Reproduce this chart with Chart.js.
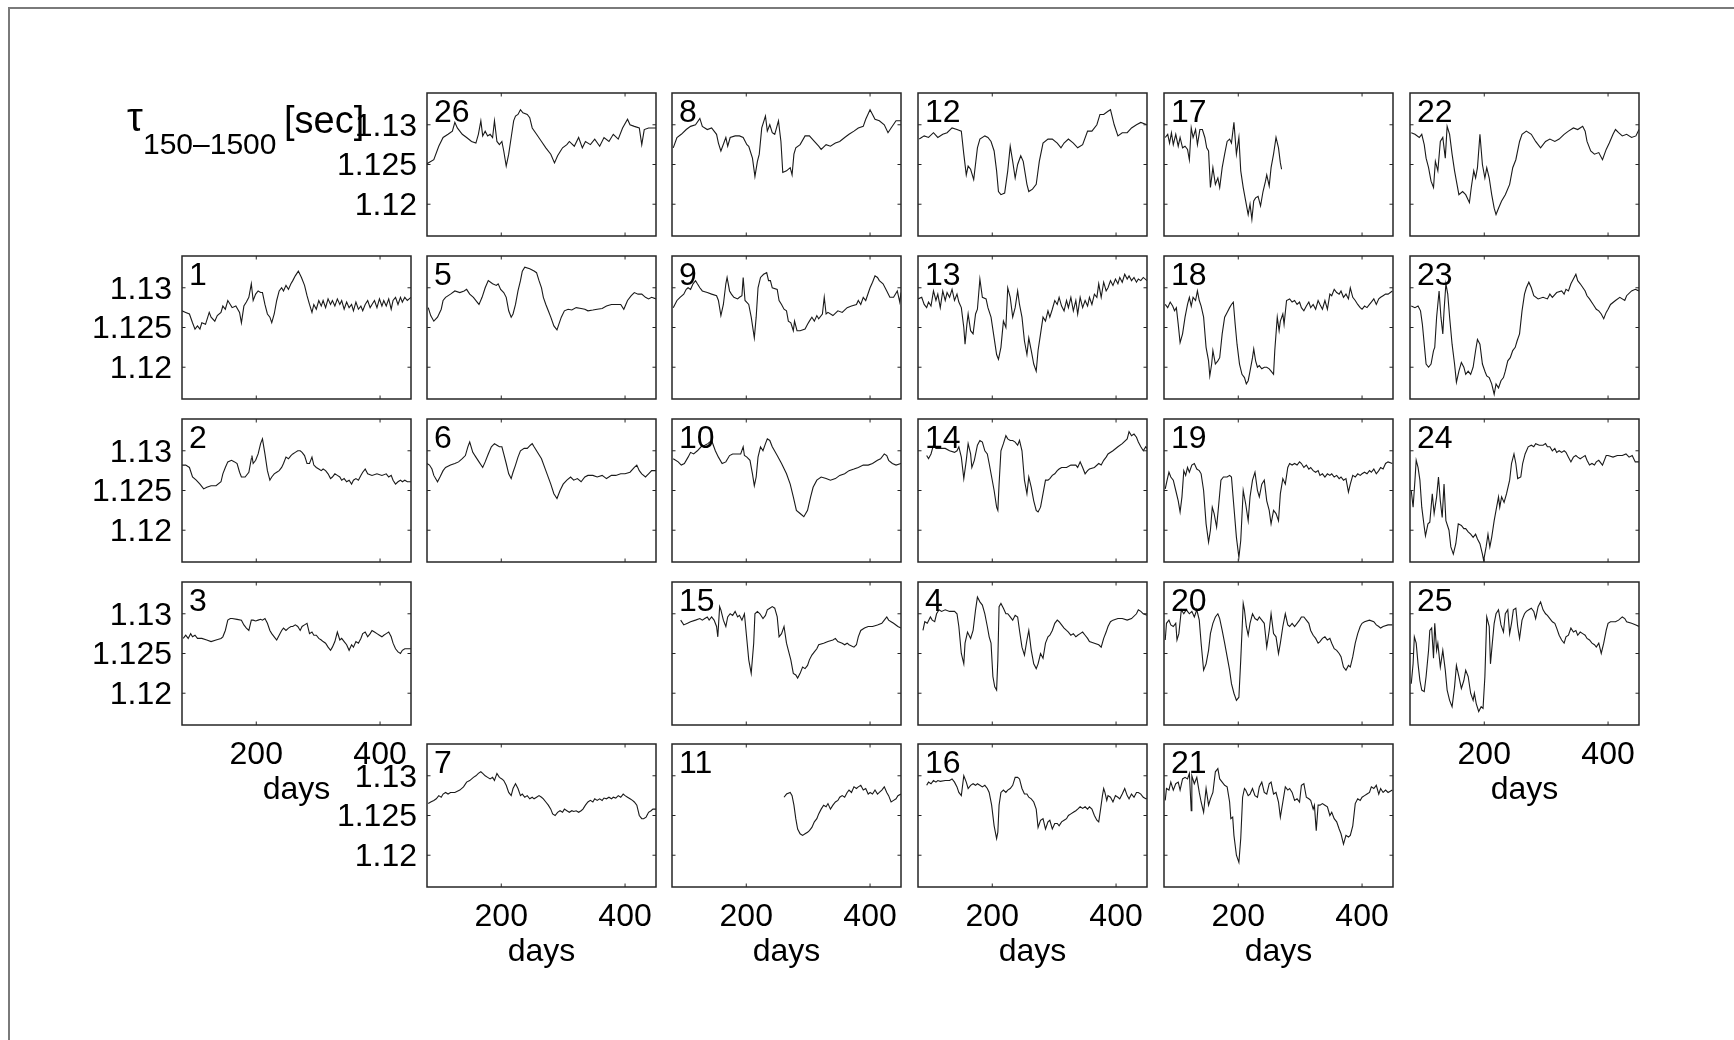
<!DOCTYPE html>
<html>
<head>
<meta charset="utf-8">
<script src="https://cdn.jsdelivr.net/npm/chart.js@4.4.1/dist/chart.umd.min.js"></script>
<style>
  html, body { margin: 0; padding: 0; background: #fff; }
  #page { position: relative; width: 1734px; height: 1040px; overflow: hidden; background: #fff; }
  #frame { position: absolute; left: 8px; top: 7px; width: 1760px; height: 1060px;
           border-left: 2px solid #7a7a7a; border-top: 2px solid #7a7a7a; }
  canvas { position: absolute; }
</style>
</head>
<body>
<div id="page"><div id="frame"></div></div>
<script>
// ---- axis ticks ----
const xTicks = [200, 400];
const xTickLabels = ['200', '400'];
const yTicks = [1.12, 1.125, 1.13];
const yTickLabels = ['1.12', '1.125', '1.13'];
const xRange = [80, 450];
const yRange = [1.116, 1.134];

// ---- tau(150-1500) series per station: days and values ----
const days26 = [80,91,99,106,114,121,125,129,137,144,152,159,163,167,170,174,178,182,186,189,193,197,201,204,208,212,216,220,223,227,231,235,242,246,250,257,265,272,280,286,291,299,306,310,318,325,331,336,344,351,359,366,374,381,389,396,404,408,415,423,427,431,438,450];
const tau26 = [1.1251,1.1256,1.1273,1.1284,1.1288,1.1292,1.1303,1.1296,1.1288,1.1284,1.1279,1.1277,1.1288,1.1305,1.1286,1.1292,1.1286,1.1288,1.1284,1.1305,1.1279,1.1275,1.1279,1.1267,1.1248,1.1263,1.1284,1.1305,1.1311,1.1313,1.1319,1.1315,1.1313,1.1309,1.1296,1.1288,1.1279,1.1271,1.1263,1.1252,1.1261,1.1271,1.1275,1.1279,1.1273,1.1284,1.1271,1.1279,1.1275,1.1282,1.1273,1.1284,1.1279,1.1288,1.1282,1.1296,1.1307,1.1300,1.1298,1.1296,1.1275,1.1294,1.1296,1.1296];

const days8 = [82,88,95,103,110,118,125,129,137,144,152,155,159,167,170,174,182,189,195,201,204,210,214,218,221,225,231,234,238,242,246,252,256,259,265,271,274,277,280,287,295,302,310,317,321,329,336,344,351,359,366,374,381,389,393,400,404,408,415,423,429,434,442,450];
const tau8 = [1.1271,1.1284,1.1288,1.1294,1.1298,1.1300,1.1308,1.1298,1.1294,1.1296,1.1288,1.1277,1.1267,1.1284,1.1273,1.1284,1.1286,1.1286,1.1284,1.1275,1.1273,1.1258,1.1235,1.1254,1.1263,1.1296,1.1311,1.1292,1.1300,1.1290,1.1288,1.1305,1.1279,1.1240,1.1242,1.1246,1.1237,1.1263,1.1271,1.1275,1.1286,1.1286,1.1279,1.1273,1.1269,1.1275,1.1273,1.1277,1.1279,1.1284,1.1288,1.1292,1.1296,1.1298,1.1307,1.1319,1.1313,1.1307,1.1305,1.1300,1.1290,1.1296,1.1305,1.1305];

const days12 = [82,90,97,105,112,120,127,135,143,150,154,158,161,165,170,176,180,188,193,198,203,207,210,214,220,225,229,233,237,241,246,250,256,259,265,271,276,282,290,297,305,311,316,323,331,338,346,354,361,369,374,380,387,391,397,403,410,418,425,433,440,450];
const tau12 = [1.1282,1.1286,1.1284,1.1290,1.1284,1.1288,1.1290,1.1296,1.1294,1.1292,1.1263,1.1237,1.1248,1.1244,1.1231,1.1271,1.1282,1.1286,1.1284,1.1279,1.1267,1.1242,1.1216,1.1212,1.1214,1.1242,1.1273,1.1254,1.1233,1.1250,1.1261,1.1254,1.1225,1.1216,1.1219,1.1225,1.1254,1.1277,1.1282,1.1282,1.1277,1.1271,1.1277,1.1282,1.1277,1.1271,1.1275,1.1292,1.1292,1.1300,1.1313,1.1313,1.1317,1.1319,1.1300,1.1286,1.1290,1.1290,1.1296,1.1300,1.1303,1.1300];

const days17 = [82,86,89,92,95,99,103,106,110,114,118,121,124,127,131,134,138,142,146,149,152,155,159,163,167,170,174,178,182,186,189,193,197,201,204,208,212,216,219,222,225,228,232,236,240,244,246,250,253,257,261,265,268,270];
const tau17 = [1.1284,1.1288,1.1277,1.1290,1.1275,1.1288,1.1273,1.1284,1.1271,1.1273,1.1269,1.1256,1.1296,1.1284,1.1294,1.1275,1.1294,1.1294,1.1284,1.1271,1.1267,1.1221,1.1246,1.1225,1.1233,1.1221,1.1246,1.1263,1.1279,1.1282,1.1277,1.1303,1.1263,1.1284,1.1242,1.1221,1.1204,1.1187,1.1200,1.1181,1.1204,1.1208,1.1210,1.1198,1.1216,1.1229,1.1237,1.1223,1.1246,1.1263,1.1284,1.1271,1.1252,1.1244];

const days22 = [82,88,95,99,103,106,110,114,118,121,125,129,133,137,140,144,148,152,155,159,165,170,176,179,183,186,189,193,197,201,204,208,212,216,219,223,228,234,241,246,251,257,261,268,276,283,291,299,306,314,321,329,336,344,351,359,363,366,372,378,385,391,397,402,408,412,417,423,430,438,445,450];
const tau22 = [1.1290,1.1288,1.1284,1.1288,1.1275,1.1258,1.1246,1.1229,1.1221,1.1254,1.1242,1.1279,1.1284,1.1258,1.1298,1.1288,1.1263,1.1242,1.1229,1.1212,1.1216,1.1212,1.1202,1.1221,1.1242,1.1233,1.1246,1.1288,1.1250,1.1233,1.1246,1.1233,1.1212,1.1195,1.1187,1.1195,1.1204,1.1212,1.1225,1.1246,1.1256,1.1279,1.1288,1.1292,1.1288,1.1279,1.1271,1.1279,1.1282,1.1279,1.1282,1.1288,1.1292,1.1296,1.1294,1.1298,1.1292,1.1279,1.1267,1.1263,1.1265,1.1256,1.1269,1.1277,1.1288,1.1294,1.1290,1.1286,1.1288,1.1284,1.1286,1.1294];

const days1 = [80,86,92,97,101,105,109,112,118,124,127,133,137,143,146,150,154,158,161,167,173,176,180,184,188,192,195,199,203,207,210,214,218,222,225,229,233,237,241,244,248,252,256,259,263,268,273,278,282,286,290,293,297,301,305,308,312,316,320,323,327,331,335,338,342,346,350,354,357,361,365,369,372,376,380,384,387,391,395,399,403,406,410,414,418,421,425,429,433,436,440,444,450];
const tau1 = [1.1271,1.1269,1.1267,1.1256,1.1248,1.1252,1.1248,1.1256,1.1254,1.1269,1.1263,1.1258,1.1265,1.1269,1.1277,1.1273,1.1284,1.1279,1.1275,1.1277,1.1269,1.1256,1.1277,1.1282,1.1288,1.1305,1.1284,1.1292,1.1296,1.1294,1.1294,1.1279,1.1267,1.1263,1.1256,1.1267,1.1284,1.1296,1.1300,1.1296,1.1303,1.1298,1.1305,1.1309,1.1315,1.1321,1.1313,1.1303,1.1290,1.1279,1.1269,1.1279,1.1273,1.1284,1.1277,1.1284,1.1275,1.1286,1.1279,1.1284,1.1277,1.1286,1.1279,1.1284,1.1273,1.1282,1.1275,1.1279,1.1271,1.1282,1.1273,1.1277,1.1271,1.1279,1.1284,1.1275,1.1279,1.1284,1.1275,1.1286,1.1277,1.1284,1.1277,1.1286,1.1273,1.1284,1.1288,1.1279,1.1288,1.1282,1.1288,1.1284,1.1288];

const days5 = [82,86,91,97,103,106,110,118,125,133,140,144,149,155,161,164,169,174,179,186,192,195,199,204,208,212,216,219,223,227,231,234,238,246,253,257,261,265,268,272,276,280,285,290,293,297,302,308,314,321,329,335,340,348,355,363,370,378,385,393,398,404,410,415,421,427,433,438,443,450];
const tau5 = [1.1275,1.1265,1.1258,1.1263,1.1273,1.1284,1.1288,1.1292,1.1296,1.1294,1.1296,1.1298,1.1292,1.1288,1.1282,1.1279,1.1288,1.1300,1.1309,1.1305,1.1303,1.1305,1.1298,1.1294,1.1288,1.1271,1.1263,1.1267,1.1279,1.1296,1.1309,1.1321,1.1326,1.1324,1.1321,1.1319,1.1309,1.1300,1.1288,1.1279,1.1271,1.1263,1.1252,1.1247,1.1254,1.1263,1.1271,1.1273,1.1272,1.1275,1.1274,1.1273,1.1271,1.1272,1.1273,1.1274,1.1277,1.1279,1.1279,1.1279,1.1273,1.1284,1.1290,1.1294,1.1292,1.1292,1.1288,1.1286,1.1288,1.1286];

const days9 = [82,88,93,99,103,106,110,114,118,121,125,129,137,144,152,155,159,163,167,169,173,176,180,186,189,193,195,198,204,208,213,216,219,223,228,233,236,239,242,250,253,257,261,265,268,272,276,278,282,287,295,299,302,306,310,314,317,323,326,329,332,340,348,355,363,370,378,381,385,389,393,400,404,408,412,415,421,427,432,438,444,448,450];
const tau9 = [1.1275,1.1284,1.1288,1.1292,1.1298,1.1300,1.1298,1.1305,1.1309,1.1305,1.1300,1.1296,1.1294,1.1292,1.1290,1.1284,1.1265,1.1279,1.1305,1.1313,1.1296,1.1292,1.1288,1.1286,1.1288,1.1290,1.1313,1.1284,1.1279,1.1263,1.1237,1.1263,1.1300,1.1313,1.1317,1.1319,1.1309,1.1309,1.1300,1.1298,1.1284,1.1279,1.1273,1.1271,1.1258,1.1256,1.1246,1.1258,1.1246,1.1246,1.1248,1.1254,1.1258,1.1263,1.1258,1.1265,1.1261,1.1267,1.1288,1.1267,1.1269,1.1265,1.1271,1.1269,1.1275,1.1277,1.1279,1.1284,1.1279,1.1288,1.1284,1.1300,1.1307,1.1315,1.1313,1.1309,1.1305,1.1296,1.1288,1.1288,1.1296,1.1282,1.1294];

const days13 = [80,86,90,94,97,101,105,109,112,116,120,124,127,131,135,139,143,146,150,154,156,159,161,165,169,173,176,180,184,190,193,198,203,207,210,214,218,222,225,229,233,237,241,244,248,252,256,259,263,267,271,274,278,282,286,290,293,297,301,305,308,312,316,320,323,327,331,335,338,342,346,350,354,357,361,365,369,372,376,380,384,387,391,395,399,403,406,410,414,418,421,425,429,433,436,440,444,450];
const tau13 = [1.1286,1.1288,1.1279,1.1275,1.1282,1.1277,1.1296,1.1284,1.1292,1.1275,1.1296,1.1284,1.1294,1.1288,1.1298,1.1284,1.1292,1.1282,1.1275,1.1250,1.1229,1.1254,1.1267,1.1246,1.1242,1.1267,1.1273,1.1311,1.1288,1.1286,1.1275,1.1263,1.1237,1.1216,1.1210,1.1225,1.1258,1.1250,1.1300,1.1288,1.1263,1.1275,1.1296,1.1279,1.1263,1.1233,1.1216,1.1237,1.1221,1.1204,1.1195,1.1221,1.1242,1.1263,1.1258,1.1271,1.1263,1.1273,1.1284,1.1279,1.1288,1.1277,1.1271,1.1284,1.1275,1.1288,1.1271,1.1284,1.1267,1.1288,1.1275,1.1284,1.1277,1.1288,1.1279,1.1292,1.1288,1.1305,1.1288,1.1307,1.1296,1.1300,1.1309,1.1303,1.1311,1.1305,1.1313,1.1307,1.1317,1.1311,1.1315,1.1309,1.1313,1.1307,1.1311,1.1309,1.1313,1.1309];

const days18 = [82,86,90,94,97,100,103,106,110,114,118,121,124,127,131,134,137,140,144,148,152,154,157,159,163,167,170,174,178,182,186,189,192,195,198,202,206,210,213,216,219,223,225,228,231,234,238,242,246,250,253,257,259,263,266,268,272,274,278,283,287,291,295,299,302,306,310,314,317,321,325,329,332,336,340,344,348,351,355,359,363,366,370,374,378,381,385,389,393,397,400,404,408,412,415,419,423,427,430,434,438,442,449];
const tau18 = [1.1279,1.1275,1.1282,1.1277,1.1271,1.1275,1.1254,1.1231,1.1242,1.1263,1.1279,1.1288,1.1277,1.1288,1.1284,1.1296,1.1284,1.1277,1.1263,1.1225,1.1208,1.1189,1.1204,1.1221,1.1204,1.1208,1.1212,1.1242,1.1263,1.1269,1.1275,1.1279,1.1282,1.1254,1.1229,1.1204,1.1191,1.1187,1.1179,1.1183,1.1195,1.1212,1.1223,1.1208,1.1200,1.1202,1.1198,1.1200,1.1200,1.1198,1.1195,1.1191,1.1221,1.1263,1.1246,1.1258,1.1267,1.1254,1.1284,1.1286,1.1282,1.1284,1.1279,1.1282,1.1275,1.1271,1.1277,1.1282,1.1275,1.1279,1.1273,1.1284,1.1279,1.1273,1.1284,1.1273,1.1292,1.1290,1.1298,1.1294,1.1292,1.1296,1.1288,1.1292,1.1286,1.1300,1.1288,1.1284,1.1279,1.1275,1.1273,1.1277,1.1275,1.1279,1.1282,1.1286,1.1279,1.1286,1.1288,1.1290,1.1292,1.1292,1.1296];

const days23 = [82,88,93,97,100,103,106,110,114,118,120,123,127,130,133,135,138,141,144,148,152,155,159,163,167,170,174,178,182,186,189,193,197,201,204,208,212,216,219,223,227,231,234,238,242,246,250,253,257,261,265,268,272,276,280,287,295,302,306,310,317,325,329,332,336,340,344,348,351,355,363,366,370,376,381,385,389,393,397,400,404,412,419,427,430,438,444,450];
const tau23 = [1.1277,1.1275,1.1277,1.1271,1.1254,1.1229,1.1204,1.1200,1.1204,1.1221,1.1225,1.1263,1.1296,1.1263,1.1242,1.1271,1.1305,1.1292,1.1263,1.1229,1.1204,1.1181,1.1195,1.1206,1.1200,1.1191,1.1195,1.1191,1.1200,1.1221,1.1235,1.1229,1.1204,1.1195,1.1189,1.1187,1.1179,1.1166,1.1179,1.1174,1.1183,1.1187,1.1195,1.1208,1.1212,1.1221,1.1225,1.1233,1.1242,1.1271,1.1292,1.1300,1.1307,1.1300,1.1290,1.1286,1.1288,1.1286,1.1292,1.1288,1.1294,1.1296,1.1292,1.1298,1.1296,1.1305,1.1311,1.1317,1.1309,1.1305,1.1296,1.1290,1.1286,1.1279,1.1273,1.1271,1.1267,1.1261,1.1269,1.1273,1.1279,1.1284,1.1288,1.1284,1.1290,1.1296,1.1298,1.1296];

const days2 = [80,86,92,97,103,109,115,120,127,135,143,146,150,154,160,165,169,173,176,182,188,192,193,195,199,203,207,210,214,218,222,225,229,233,237,241,244,248,252,256,259,263,267,271,274,278,282,286,290,293,297,301,305,308,312,316,320,323,327,331,335,338,342,346,350,354,357,361,365,369,372,376,380,387,395,403,410,414,418,421,425,429,433,436,440,444,450];
const tau2 = [1.1282,1.1282,1.1279,1.1267,1.1263,1.1258,1.1252,1.1254,1.1256,1.1256,1.1261,1.1271,1.1279,1.1286,1.1288,1.1286,1.1284,1.1273,1.1267,1.1267,1.1273,1.1290,1.1294,1.1284,1.1288,1.1296,1.1309,1.1315,1.1296,1.1275,1.1263,1.1267,1.1271,1.1273,1.1275,1.1279,1.1284,1.1292,1.1290,1.1294,1.1296,1.1298,1.1300,1.1300,1.1298,1.1294,1.1284,1.1284,1.1292,1.1282,1.1279,1.1277,1.1275,1.1277,1.1275,1.1271,1.1265,1.1267,1.1271,1.1269,1.1267,1.1263,1.1265,1.1261,1.1263,1.1258,1.1263,1.1265,1.1263,1.1269,1.1273,1.1277,1.1271,1.1269,1.1271,1.1269,1.1271,1.1267,1.1269,1.1263,1.1258,1.1261,1.1263,1.1261,1.1263,1.1261,1.1261];

const days6 = [80,84,88,91,97,101,106,110,118,125,131,137,142,146,149,154,159,164,170,174,179,184,189,193,197,201,204,208,212,216,219,223,227,231,237,242,247,250,253,257,265,272,280,285,290,295,300,306,312,317,323,329,335,340,348,355,363,370,378,385,393,400,408,415,419,423,427,433,438,443,450];
const tau6 = [1.1284,1.1282,1.1277,1.1269,1.1261,1.1267,1.1275,1.1279,1.1282,1.1284,1.1286,1.1290,1.1294,1.1305,1.1311,1.1298,1.1292,1.1286,1.1279,1.1286,1.1296,1.1305,1.1309,1.1307,1.1305,1.1305,1.1296,1.1284,1.1271,1.1265,1.1273,1.1282,1.1292,1.1300,1.1303,1.1303,1.1307,1.1309,1.1305,1.1300,1.1290,1.1275,1.1258,1.1246,1.1240,1.1250,1.1258,1.1263,1.1267,1.1263,1.1265,1.1261,1.1267,1.1269,1.1269,1.1267,1.1269,1.1265,1.1269,1.1269,1.1271,1.1271,1.1273,1.1279,1.1282,1.1275,1.1271,1.1267,1.1271,1.1275,1.1275];

const days10 = [82,90,95,100,106,110,115,121,127,133,138,144,150,155,161,167,173,178,186,191,195,197,201,206,210,213,216,219,223,227,231,234,238,242,250,257,265,271,276,281,287,293,299,304,308,314,321,329,336,344,351,359,366,374,381,389,397,404,412,417,423,427,430,436,442,450];
const tau10 = [1.1290,1.1286,1.1282,1.1284,1.1292,1.1298,1.1296,1.1300,1.1305,1.1307,1.1309,1.1313,1.1300,1.1292,1.1284,1.1286,1.1294,1.1296,1.1296,1.1296,1.1305,1.1294,1.1292,1.1288,1.1271,1.1256,1.1267,1.1292,1.1305,1.1300,1.1309,1.1315,1.1313,1.1305,1.1294,1.1284,1.1271,1.1258,1.1242,1.1225,1.1221,1.1217,1.1225,1.1242,1.1254,1.1263,1.1267,1.1265,1.1263,1.1265,1.1269,1.1271,1.1275,1.1277,1.1279,1.1282,1.1282,1.1284,1.1288,1.1290,1.1296,1.1294,1.1288,1.1284,1.1282,1.1284];

const days14 = [94,97,101,105,109,116,124,131,139,143,146,150,154,158,161,165,167,171,176,180,184,188,192,195,199,203,207,209,211,214,218,222,225,229,233,237,241,244,248,252,256,259,263,267,271,274,278,282,286,290,293,297,301,305,308,312,320,327,335,338,342,346,350,354,357,365,372,376,380,384,387,395,403,410,418,421,425,429,433,436,440,444,448,450];
const tau14 = [1.1294,1.1290,1.1296,1.1307,1.1303,1.1303,1.1303,1.1300,1.1298,1.1300,1.1305,1.1292,1.1265,1.1288,1.1309,1.1296,1.1279,1.1288,1.1307,1.1313,1.1311,1.1300,1.1296,1.1284,1.1267,1.1250,1.1229,1.1225,1.1258,1.1300,1.1309,1.1319,1.1315,1.1313,1.1313,1.1311,1.1307,1.1313,1.1300,1.1263,1.1246,1.1267,1.1254,1.1237,1.1225,1.1223,1.1229,1.1246,1.1263,1.1263,1.1265,1.1269,1.1271,1.1275,1.1277,1.1279,1.1279,1.1282,1.1282,1.1279,1.1286,1.1279,1.1271,1.1275,1.1277,1.1279,1.1284,1.1282,1.1288,1.1292,1.1296,1.1300,1.1305,1.1309,1.1315,1.1324,1.1319,1.1321,1.1317,1.1311,1.1305,1.1300,1.1305,1.1303];

const days19 = [82,85,88,91,95,99,103,106,109,112,115,118,121,125,129,133,137,140,144,148,152,155,158,161,165,168,172,176,182,186,189,193,197,201,204,208,212,216,219,223,227,231,234,238,242,246,250,253,257,261,265,268,272,276,280,283,287,291,295,299,302,306,310,314,317,321,325,329,332,336,340,344,348,351,355,359,363,366,370,374,378,381,385,389,393,397,400,404,408,412,415,419,423,427,430,434,438,442,449];
const tau19 = [1.1252,1.1263,1.1273,1.1267,1.1263,1.1250,1.1237,1.1223,1.1242,1.1275,1.1269,1.1279,1.1273,1.1282,1.1284,1.1277,1.1275,1.1271,1.1250,1.1208,1.1185,1.1200,1.1229,1.1221,1.1204,1.1229,1.1263,1.1267,1.1267,1.1269,1.1267,1.1229,1.1191,1.1166,1.1187,1.1250,1.1233,1.1212,1.1242,1.1263,1.1273,1.1250,1.1242,1.1258,1.1263,1.1237,1.1225,1.1208,1.1225,1.1221,1.1212,1.1246,1.1265,1.1258,1.1279,1.1284,1.1282,1.1284,1.1282,1.1286,1.1284,1.1279,1.1282,1.1277,1.1279,1.1275,1.1273,1.1275,1.1269,1.1271,1.1267,1.1271,1.1269,1.1271,1.1267,1.1269,1.1265,1.1267,1.1263,1.1265,1.1248,1.1258,1.1269,1.1267,1.1271,1.1269,1.1271,1.1273,1.1271,1.1275,1.1273,1.1277,1.1271,1.1275,1.1279,1.1277,1.1284,1.1286,1.1284];

const days24 = [82,85,88,90,93,96,99,103,105,109,112,116,119,123,126,129,132,135,138,143,146,150,154,158,163,167,170,174,178,182,186,189,193,197,199,203,206,209,212,216,219,223,225,228,232,236,241,244,248,251,254,259,262,266,271,276,280,283,289,295,299,302,306,310,314,317,321,325,329,332,336,340,344,348,351,355,359,363,366,370,374,378,381,385,391,397,400,408,415,423,429,434,439,444,450];
const tau24 = [1.1250,1.1229,1.1263,1.1288,1.1279,1.1263,1.1229,1.1204,1.1193,1.1208,1.1210,1.1246,1.1221,1.1242,1.1267,1.1237,1.1216,1.1258,1.1212,1.1200,1.1179,1.1170,1.1183,1.1208,1.1206,1.1202,1.1202,1.1198,1.1195,1.1191,1.1195,1.1189,1.1183,1.1170,1.1162,1.1179,1.1195,1.1179,1.1191,1.1212,1.1225,1.1242,1.1229,1.1242,1.1235,1.1246,1.1263,1.1284,1.1296,1.1284,1.1265,1.1267,1.1284,1.1296,1.1305,1.1307,1.1305,1.1309,1.1307,1.1307,1.1309,1.1305,1.1305,1.1300,1.1303,1.1298,1.1300,1.1298,1.1300,1.1298,1.1292,1.1286,1.1292,1.1294,1.1292,1.1290,1.1292,1.1294,1.1288,1.1282,1.1284,1.1282,1.1286,1.1288,1.1282,1.1294,1.1294,1.1292,1.1294,1.1294,1.1296,1.1292,1.1294,1.1286,1.1286];

const days3 = [82,86,90,94,97,101,105,112,120,127,135,143,146,150,154,158,161,169,176,180,184,188,192,195,199,203,207,210,214,218,222,225,229,233,237,241,244,248,252,256,259,263,267,271,274,278,282,286,290,293,297,301,305,308,312,316,320,323,327,331,335,338,342,346,350,354,357,361,365,369,372,376,380,384,387,391,395,399,403,406,410,414,418,421,425,429,433,436,440,444,450];
const tau3 = [1.1269,1.1273,1.1269,1.1275,1.1271,1.1273,1.1269,1.1269,1.1267,1.1265,1.1267,1.1269,1.1271,1.1279,1.1292,1.1294,1.1294,1.1293,1.1292,1.1286,1.1282,1.1279,1.1292,1.1292,1.1291,1.1292,1.1293,1.1292,1.1294,1.1288,1.1279,1.1275,1.1271,1.1267,1.1273,1.1279,1.1282,1.1279,1.1282,1.1284,1.1284,1.1286,1.1284,1.1279,1.1284,1.1286,1.1288,1.1275,1.1277,1.1273,1.1273,1.1269,1.1267,1.1265,1.1263,1.1258,1.1254,1.1258,1.1265,1.1277,1.1267,1.1269,1.1265,1.1261,1.1254,1.1261,1.1258,1.1265,1.1263,1.1269,1.1275,1.1277,1.1271,1.1275,1.1279,1.1277,1.1275,1.1273,1.1271,1.1273,1.1275,1.1277,1.1271,1.1263,1.1256,1.1252,1.1250,1.1254,1.1256,1.1256,1.1256];

const days15 = [94,99,105,110,118,125,129,133,137,140,144,148,152,154,157,159,163,167,170,174,178,182,186,189,193,197,201,204,208,212,214,218,222,227,231,234,238,242,246,250,253,257,261,265,268,272,276,280,283,287,291,295,299,302,306,310,314,317,325,332,340,344,348,355,359,363,366,374,378,381,385,391,397,404,412,419,423,427,430,434,438,445,450];
const tau15 = [1.1292,1.1286,1.1288,1.1290,1.1292,1.1294,1.1292,1.1294,1.1296,1.1292,1.1296,1.1292,1.1284,1.1271,1.1309,1.1305,1.1292,1.1284,1.1296,1.1300,1.1298,1.1303,1.1296,1.1298,1.1292,1.1300,1.1267,1.1242,1.1225,1.1263,1.1300,1.1303,1.1300,1.1294,1.1298,1.1305,1.1307,1.1309,1.1307,1.1296,1.1271,1.1275,1.1284,1.1263,1.1254,1.1242,1.1225,1.1223,1.1219,1.1225,1.1233,1.1231,1.1235,1.1242,1.1248,1.1252,1.1256,1.1261,1.1263,1.1265,1.1267,1.1269,1.1265,1.1263,1.1261,1.1263,1.1261,1.1258,1.1261,1.1271,1.1279,1.1282,1.1284,1.1284,1.1286,1.1288,1.1292,1.1296,1.1292,1.1290,1.1288,1.1284,1.1282];

const days4 = [88,91,95,100,103,107,110,114,118,124,131,139,143,146,150,154,156,160,165,169,173,176,180,184,188,192,195,198,201,204,207,209,211,214,218,222,225,229,233,237,241,244,248,252,256,259,263,267,271,274,278,282,286,290,293,297,301,305,308,312,316,320,323,327,331,335,338,342,346,350,354,357,365,372,376,380,384,387,391,395,403,410,418,425,433,436,440,444,450];
const tau4 = [1.1279,1.1290,1.1288,1.1296,1.1292,1.1290,1.1300,1.1305,1.1303,1.1305,1.1303,1.1303,1.1300,1.1284,1.1250,1.1237,1.1263,1.1277,1.1269,1.1279,1.1305,1.1321,1.1315,1.1311,1.1300,1.1284,1.1271,1.1263,1.1221,1.1208,1.1204,1.1242,1.1309,1.1313,1.1307,1.1300,1.1300,1.1296,1.1292,1.1298,1.1296,1.1279,1.1258,1.1248,1.1267,1.1279,1.1254,1.1237,1.1231,1.1237,1.1250,1.1244,1.1263,1.1271,1.1273,1.1279,1.1288,1.1292,1.1290,1.1286,1.1282,1.1279,1.1277,1.1273,1.1275,1.1271,1.1273,1.1275,1.1277,1.1273,1.1269,1.1265,1.1263,1.1261,1.1258,1.1269,1.1277,1.1284,1.1290,1.1292,1.1294,1.1294,1.1292,1.1294,1.1300,1.1305,1.1303,1.1300,1.1298];

const days20 = [82,84,88,91,95,99,101,104,108,112,116,121,125,129,133,137,140,144,148,152,155,159,163,167,170,174,178,182,186,189,193,197,201,204,208,210,213,216,219,223,227,231,234,238,242,246,250,253,257,261,265,268,272,276,280,283,287,291,295,299,302,306,310,314,317,321,325,329,332,336,340,344,348,351,355,359,363,366,370,374,378,381,385,389,393,397,400,404,412,419,423,427,430,434,442,449];
const tau20 = [1.1267,1.1288,1.1292,1.1286,1.1284,1.1288,1.1267,1.1275,1.1305,1.1300,1.1305,1.1300,1.1303,1.1296,1.1305,1.1292,1.1263,1.1229,1.1237,1.1254,1.1275,1.1288,1.1296,1.1300,1.1294,1.1279,1.1263,1.1246,1.1229,1.1212,1.1200,1.1191,1.1195,1.1242,1.1313,1.1305,1.1284,1.1273,1.1288,1.1300,1.1294,1.1292,1.1296,1.1292,1.1288,1.1258,1.1279,1.1300,1.1275,1.1271,1.1250,1.1263,1.1284,1.1300,1.1286,1.1284,1.1288,1.1284,1.1288,1.1292,1.1296,1.1296,1.1292,1.1288,1.1279,1.1273,1.1269,1.1263,1.1265,1.1269,1.1271,1.1267,1.1269,1.1263,1.1256,1.1254,1.1250,1.1246,1.1233,1.1229,1.1235,1.1233,1.1246,1.1263,1.1275,1.1284,1.1288,1.1290,1.1292,1.1290,1.1286,1.1284,1.1282,1.1284,1.1286,1.1286];

const days25 = [82,85,87,90,93,96,99,103,106,110,112,115,118,120,123,125,129,133,137,140,144,148,152,155,159,163,167,170,174,178,182,184,187,191,195,198,201,204,208,210,213,216,219,223,227,231,234,238,241,244,247,251,254,257,261,265,268,272,276,280,283,287,291,295,299,302,306,310,314,317,321,325,329,332,336,340,344,348,351,355,359,363,366,370,374,378,381,385,389,393,397,400,404,412,417,423,427,430,438,445,450];
const tau25 = [1.1212,1.1237,1.1271,1.1263,1.1237,1.1216,1.1204,1.1202,1.1221,1.1254,1.1279,1.1282,1.1244,1.1288,1.1254,1.1263,1.1233,1.1254,1.1229,1.1204,1.1191,1.1183,1.1208,1.1235,1.1221,1.1206,1.1216,1.1229,1.1221,1.1200,1.1191,1.1200,1.1187,1.1177,1.1183,1.1181,1.1221,1.1296,1.1284,1.1237,1.1263,1.1288,1.1300,1.1305,1.1286,1.1277,1.1300,1.1305,1.1275,1.1288,1.1305,1.1307,1.1284,1.1269,1.1292,1.1300,1.1303,1.1305,1.1307,1.1303,1.1294,1.1309,1.1315,1.1305,1.1300,1.1298,1.1294,1.1290,1.1288,1.1282,1.1273,1.1267,1.1263,1.1271,1.1273,1.1282,1.1277,1.1279,1.1273,1.1277,1.1275,1.1273,1.1269,1.1267,1.1263,1.1261,1.1258,1.1263,1.1250,1.1263,1.1279,1.1288,1.1290,1.1290,1.1292,1.1296,1.1294,1.1290,1.1288,1.1286,1.1284];

const days7 = [82,86,91,95,99,103,106,110,114,118,125,133,139,144,149,155,159,163,167,170,174,178,182,186,189,193,197,201,204,208,212,216,219,223,227,231,234,238,242,246,250,253,257,261,265,268,272,276,280,283,287,291,295,299,302,306,310,314,317,321,325,329,332,336,340,344,348,351,355,359,363,366,370,374,378,381,385,389,393,397,400,404,408,412,415,419,423,427,430,434,438,442,445,450];
const tau7 = [1.1265,1.1267,1.1269,1.1271,1.1275,1.1273,1.1277,1.1279,1.1277,1.1279,1.1279,1.1282,1.1286,1.1292,1.1294,1.1298,1.1300,1.1303,1.1305,1.1303,1.1300,1.1298,1.1296,1.1298,1.1294,1.1303,1.1298,1.1296,1.1294,1.1288,1.1279,1.1275,1.1284,1.1290,1.1284,1.1275,1.1277,1.1273,1.1275,1.1271,1.1273,1.1271,1.1273,1.1275,1.1273,1.1271,1.1267,1.1263,1.1258,1.1252,1.1250,1.1254,1.1256,1.1254,1.1258,1.1256,1.1254,1.1256,1.1255,1.1256,1.1254,1.1256,1.1258,1.1263,1.1267,1.1269,1.1267,1.1271,1.1269,1.1271,1.1269,1.1272,1.1271,1.1273,1.1271,1.1273,1.1272,1.1275,1.1273,1.1277,1.1275,1.1273,1.1271,1.1269,1.1267,1.1263,1.1250,1.1246,1.1246,1.1248,1.1254,1.1256,1.1258,1.1258];

const days11 = [261,265,271,274,277,280,283,287,291,295,299,302,306,310,314,317,321,325,329,332,336,340,344,348,351,355,359,363,366,370,374,378,381,385,389,393,397,400,404,408,412,415,419,423,427,430,434,438,442,445,450];
const tau11 = [1.1273,1.1277,1.1279,1.1275,1.1263,1.1246,1.1233,1.1227,1.1225,1.1227,1.1229,1.1231,1.1235,1.1242,1.1246,1.1252,1.1258,1.1263,1.1261,1.1265,1.1258,1.1263,1.1267,1.1269,1.1273,1.1275,1.1273,1.1279,1.1282,1.1279,1.1286,1.1284,1.1286,1.1288,1.1282,1.1284,1.1277,1.1279,1.1277,1.1282,1.1277,1.1279,1.1282,1.1286,1.1279,1.1275,1.1267,1.1269,1.1271,1.1275,1.1277];

const days16 = [94,97,101,105,109,112,116,124,131,135,139,143,146,150,154,158,161,165,169,173,176,180,184,188,192,195,199,203,207,209,211,214,218,222,225,229,233,237,241,244,248,252,256,259,263,267,271,274,278,282,286,290,293,297,301,305,308,312,316,320,323,327,331,335,338,342,346,350,354,357,361,365,369,372,375,378,380,382,385,387,391,395,399,403,406,410,414,418,421,425,429,433,436,440,444,448,450];
const tau16 = [1.1288,1.1292,1.1290,1.1294,1.1292,1.1294,1.1293,1.1294,1.1294,1.1296,1.1292,1.1286,1.1279,1.1275,1.1300,1.1292,1.1284,1.1288,1.1290,1.1288,1.1290,1.1288,1.1286,1.1288,1.1284,1.1279,1.1263,1.1237,1.1221,1.1229,1.1263,1.1279,1.1282,1.1279,1.1282,1.1284,1.1288,1.1298,1.1298,1.1296,1.1284,1.1277,1.1277,1.1273,1.1271,1.1267,1.1258,1.1235,1.1244,1.1246,1.1233,1.1242,1.1244,1.1233,1.1240,1.1240,1.1237,1.1242,1.1244,1.1246,1.1250,1.1252,1.1254,1.1256,1.1258,1.1261,1.1259,1.1261,1.1258,1.1261,1.1258,1.1250,1.1244,1.1242,1.1258,1.1275,1.1284,1.1279,1.1269,1.1275,1.1273,1.1267,1.1275,1.1273,1.1271,1.1277,1.1284,1.1275,1.1271,1.1277,1.1273,1.1279,1.1279,1.1277,1.1273,1.1271,1.1271];

const days21 = [82,84,88,91,95,99,103,106,110,114,118,121,124,125,129,133,137,140,144,148,152,155,159,163,167,170,174,178,182,186,188,191,193,197,201,204,207,210,212,216,219,223,227,231,234,238,242,246,250,253,257,261,265,268,272,276,280,283,287,291,295,299,302,306,310,314,317,321,323,326,329,332,336,340,344,348,351,355,359,363,366,370,374,378,381,385,389,393,397,400,404,408,412,415,419,423,427,430,434,438,442,449];
const tau21 = [1.1269,1.1284,1.1282,1.1292,1.1282,1.1290,1.1292,1.1282,1.1296,1.1298,1.1296,1.1303,1.1256,1.1300,1.1290,1.1298,1.1279,1.1267,1.1254,1.1284,1.1263,1.1271,1.1279,1.1305,1.1309,1.1296,1.1292,1.1288,1.1286,1.1267,1.1246,1.1248,1.1225,1.1200,1.1191,1.1221,1.1273,1.1284,1.1282,1.1275,1.1277,1.1284,1.1275,1.1273,1.1286,1.1292,1.1279,1.1277,1.1290,1.1292,1.1277,1.1279,1.1267,1.1248,1.1267,1.1286,1.1282,1.1284,1.1279,1.1269,1.1271,1.1267,1.1288,1.1290,1.1273,1.1271,1.1269,1.1258,1.1263,1.1231,1.1263,1.1263,1.1265,1.1263,1.1261,1.1250,1.1254,1.1246,1.1242,1.1233,1.1227,1.1214,1.1225,1.1223,1.1225,1.1237,1.1265,1.1271,1.1269,1.1273,1.1275,1.1277,1.1279,1.1286,1.1284,1.1288,1.1277,1.1284,1.1279,1.1282,1.1279,1.1282];

// ---- which panel sits where (row, column) ----
const panelGrid = [
  [null, 26, 8, 12, 17, 22],
  [1, 5, 9, 13, 18, 23],
  [2, 6, 10, 14, 19, 24],
  [3, null, 15, 4, 20, 25],
  [null, 7, 11, 16, 21, null]
];
const yLabelPanels = [26, 1, 2, 3, 7];
const xLabelPanels = [3, 7, 11, 16, 21, 25];
const series = {
  1: [days1, tau1], 2: [days2, tau2], 3: [days3, tau3], 4: [days4, tau4], 5: [days5, tau5],
  6: [days6, tau6], 7: [days7, tau7], 8: [days8, tau8], 9: [days9, tau9], 10: [days10, tau10],
  11: [days11, tau11], 12: [days12, tau12], 13: [days13, tau13], 14: [days14, tau14], 15: [days15, tau15],
  16: [days16, tau16], 17: [days17, tau17], 18: [days18, tau18], 19: [days19, tau19], 20: [days20, tau20],
  21: [days21, tau21], 22: [days22, tau22], 23: [days23, tau23], 24: [days24, tau24], 25: [days25, tau25],
  26: [days26, tau26]
};

// ---- geometry ----
const colLeft = [182, 427, 672, 918, 1164, 1410];
const rowTop = [93, 256, 419, 582, 744];
const PW = 229, PH = 143;          // plot box size
const AXW = 120, AXH = 84, PAD = 3; // room for tick labels / axis title
const TICK = 3.5;
const FONT = '"Liberation Sans", Arial, Helvetica, sans-serif';
const FS = 32;
const page = document.getElementById('page');

// box with inward ticks on all four sides, plus the station number
const boxPlugin = {
  id: 'panelBox',
  afterDraw(chart, args, opts) {
    const { ctx, chartArea: a, scales: { x, y } } = chart;
    ctx.save();
    ctx.strokeStyle = '#262626';
    ctx.lineWidth = 1.5;
    ctx.strokeRect(a.left, a.top, a.right - a.left, a.bottom - a.top);
    ctx.lineWidth = 1;
    ctx.beginPath();
    xTicks.forEach(v => {
      const px = x.getPixelForValue(v);
      ctx.moveTo(px, a.bottom); ctx.lineTo(px, a.bottom - TICK);
      ctx.moveTo(px, a.top); ctx.lineTo(px, a.top + TICK);
    });
    yTicks.forEach(v => {
      const py = y.getPixelForValue(v);
      ctx.moveTo(a.left, py); ctx.lineTo(a.left + TICK, py);
      ctx.moveTo(a.right, py); ctx.lineTo(a.right - TICK, py);
    });
    ctx.stroke();
    ctx.fillStyle = '#000';
    ctx.font = FS + 'px ' + FONT;
    ctx.textAlign = 'left';
    ctx.textBaseline = 'alphabetic';
    ctx.fillText(opts.label, a.left + 7, a.top + 29);
    ctx.restore();
  }
};

// y-axis quantity label
(function drawQuantityLabel() {
  const cv = document.createElement('canvas');
  cv.width = 400; cv.height = 180;
  cv.style.left = '0px'; cv.style.top = '0px';
  page.appendChild(cv);
  const ctx = cv.getContext('2d');
  ctx.fillStyle = '#000';
  ctx.textBaseline = 'alphabetic';
  ctx.font = '40px ' + FONT;
  ctx.fillText('\u03C4', 127, 131);
  ctx.font = '30px ' + FONT;
  ctx.fillText('150\u20131500', 143, 154);
  ctx.font = '38px ' + FONT;
  ctx.fillText('[sec]', 284, 133);
})();

function makePanel(id, row, col) {
  const [d, t] = series[id];
  const n = Math.min(d.length, t.length);
  const pts = [];
  for (let i = 0; i < n; i++) pts.push({ x: d[i], y: t[i] });
  const showY = yLabelPanels.includes(id);
  const showX = xLabelPanels.includes(id);

  const cv = document.createElement('canvas');
  cv.width = AXW + PW + PAD;
  cv.height = PAD + PH + AXH;
  cv.style.left = (colLeft[col] - AXW) + 'px';
  cv.style.top = (rowTop[row] - PAD) + 'px';
  page.appendChild(cv);

  new Chart(cv, {
    type: 'line',
    data: { datasets: [{ data: pts, borderColor: '#1a1a1a', borderWidth: 1.1, pointRadius: 0, tension: 0, fill: false }] },
    options: {
      responsive: false,
      animation: false,
      events: [],
      parsing: false,
      layout: { padding: { top: PAD, right: PAD, left: 0, bottom: 0 } },
      plugins: { legend: { display: false }, tooltip: { enabled: false }, panelBox: { label: String(id) } },
      scales: {
        x: {
          type: 'linear', position: 'bottom', min: xRange[0], max: xRange[1],
          grid: { display: false, drawTicks: false }, border: { display: false },
          afterBuildTicks: s => { s.ticks = xTicks.map(v => ({ value: v })); },
          afterFit: s => { s.height = AXH; s.paddingLeft = 0; s.paddingRight = 0; },
          ticks: { display: showX, autoSkip: false, maxRotation: 0, padding: 11, color: '#000',
                   font: { family: FONT, size: FS }, callback: (v, i) => xTickLabels[i] },
          title: { display: showX, text: 'days', color: '#000', font: { family: FONT, size: FS }, padding: 0 }
        },
        y: {
          type: 'linear', position: 'left', min: yRange[0], max: yRange[1],
          grid: { display: false, drawTicks: false }, border: { display: false },
          afterBuildTicks: s => { s.ticks = yTicks.map(v => ({ value: v })); },
          afterFit: s => { s.width = AXW; s.paddingTop = 0; s.paddingBottom = 0; },
          ticks: { display: showY, autoSkip: false, padding: 10, labelOffset: 2, color: '#000',
                   font: { family: FONT, size: FS }, callback: (v, i) => yTickLabels[i] }
        }
      }
    },
    plugins: [boxPlugin]
  });
}

panelGrid.forEach((cols, r) => cols.forEach((id, c) => { if (id !== null) makePanel(id, r, c); }));
</script>
</body>
</html>
